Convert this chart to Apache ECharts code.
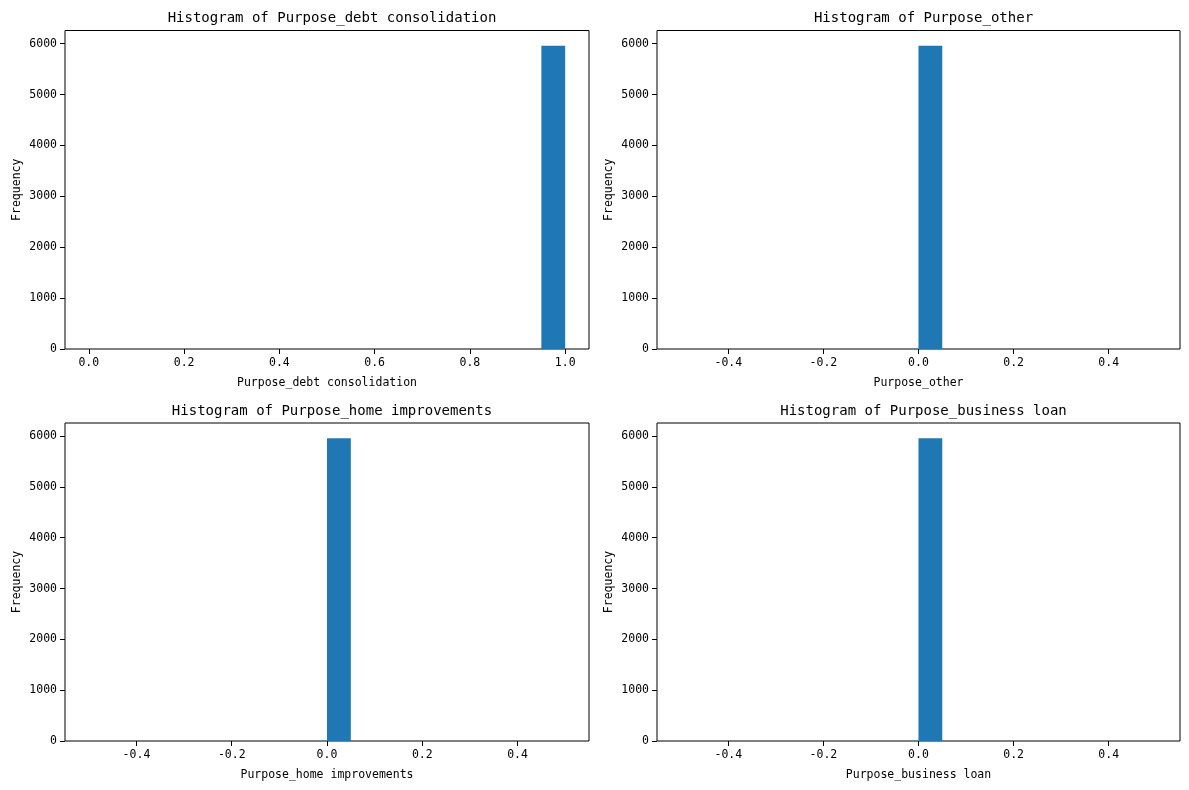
<!DOCTYPE html>
<html>
<head>
<meta charset="utf-8">
<script src="https://cdn.jsdelivr.net/npm/echarts@6/dist/echarts.min.js"></script>
<style>
html,body{margin:0;padding:0;background:#fff;}
#chart{width:1189px;height:790px;}
</style>
</head>
<body>
<div id="chart"></div>
<script>
// ---- data ----
const titles = [
  "Histogram of Purpose_debt consolidation",
  "Histogram of Purpose_other",
  "Histogram of Purpose_home improvements",
  "Histogram of Purpose_business loan"
];
const xNames = [
  "Purpose_debt consolidation",
  "Purpose_other",
  "Purpose_home improvements",
  "Purpose_business loan"
];
// bin ranges (matplotlib 20 bins)
const binStarts = [0.0, -0.5, -0.5, -0.5];
const binEnds = [1.0, 0.5, 0.5, 0.5];
const nBins = 20;
// counts per bin
const countsDebt = [0,0,0,0,0,0,0,0,0,0,0,0,0,0,0,0,0,0,0,5960];
const countsOther = [0,0,0,0,0,0,0,0,0,0,5960,0,0,0,0,0,0,0,0,0];
const countsHome = [0,0,0,0,0,0,0,0,0,0,5960,0,0,0,0,0,0,0,0,0];
const countsBusiness = [0,0,0,0,0,0,0,0,0,0,5960,0,0,0,0,0,0,0,0,0];
const allCounts = [countsDebt, countsOther, countsHome, countsBusiness];
const xTicksA = [0.0, 0.2, 0.4, 0.6, 0.8, 1.0];
const xTicksB = [-0.4, -0.2, 0.0, 0.2, 0.4];
const yTicks = [0, 1000, 2000, 3000, 4000, 5000, 6000];
const xTickSets = [xTicksA, xTicksB, xTicksB, xTicksB];

// ---- layout ----
const FONT = "DejaVu Sans Mono";
const gridPos = [
  {left: 65, top: 30.5, width: 524, height: 318.5},
  {left: 657, top: 30.5, width: 523, height: 318.5},
  {left: 65, top: 423, width: 524, height: 318},
  {left: 657, top: 423, width: 523, height: 318}
];

const grids = [], xAxes = [], yAxes = [], series = [], titleOpts = [];
for (let i = 0; i < 4; i++) {
  const g = gridPos[i];
  grids.push(Object.assign({show: true, borderColor: '#000', borderWidth: 1, backgroundColor: '#fff', containLabel: false}, g));
  const lo = binStarts[i], hi = binEnds[i];
  const pad = (hi - lo) * 0.05;
  const counts = allCounts[i];
  const maxC = Math.max.apply(null, counts);
  xAxes.push({
    type: 'value', gridIndex: i, min: lo - pad, max: hi + pad, position: 'bottom',
    name: xNames[i], nameLocation: 'middle', nameGap: 28,
    nameTextStyle: {fontFamily: FONT, fontSize: 11.5, color: '#000'},
    axisLine: {show: false, onZero: false},
    axisTick: {show: true, length: 5, lineStyle: {color: '#000', width: 1}, customValues: xTickSets[i]},
    axisLabel: {fontFamily: FONT, fontSize: 11.5, color: '#000', margin: 8, customValues: xTickSets[i],
      formatter: v => v.toFixed(1)},
    splitLine: {show: false}
  });
  yAxes.push({
    type: 'value', gridIndex: i, min: 0, max: maxC * 1.05, position: 'left',
    name: 'Frequency', nameLocation: 'middle', nameGap: 42,
    nameTextStyle: {fontFamily: FONT, fontSize: 11.5, color: '#000'},
    axisLine: {show: false, onZero: false},
    axisTick: {show: true, length: 5, lineStyle: {color: '#000', width: 1}, customValues: yTicks},
    axisLabel: {fontFamily: FONT, fontSize: 11.5, color: '#000', margin: 8, customValues: yTicks,
      formatter: v => String(Math.round(v))},
    splitLine: {show: false}
  });
  const w = (hi - lo) / nBins;
  const data = counts.map((c, k) => [lo + k * w, lo + (k + 1) * w, c]);
  series.push({
    type: 'custom', xAxisIndex: i, yAxisIndex: i, data: data,
    encode: {x: [0, 1], y: 2},
    renderItem: function (params, api) {
      const c = api.value(2);
      if (!c) return null;
      const p0 = api.coord([api.value(0), 0]);
      const p1 = api.coord([api.value(1), c]);
      return {type: 'rect', shape: {x: p0[0], y: p1[1], width: p1[0] - p0[0], height: p0[1] - p1[1]},
        style: {fill: '#1f77b4'}};
    }
  });
  titleOpts.push({
    text: titles[i], left: g.left + g.width / 2, textAlign: 'center', top: g.top - 24,
    textStyle: {fontFamily: FONT, fontSize: 14, fontWeight: 'normal', color: '#000'}
  });
}

const chart = echarts.init(document.getElementById('chart'), null, {renderer: 'canvas'});
chart.setOption({
  backgroundColor: '#fff',
  animation: false,
  title: titleOpts,
  grid: grids,
  xAxis: xAxes,
  yAxis: yAxes,
  series: series
});
</script>
</body>
</html>
